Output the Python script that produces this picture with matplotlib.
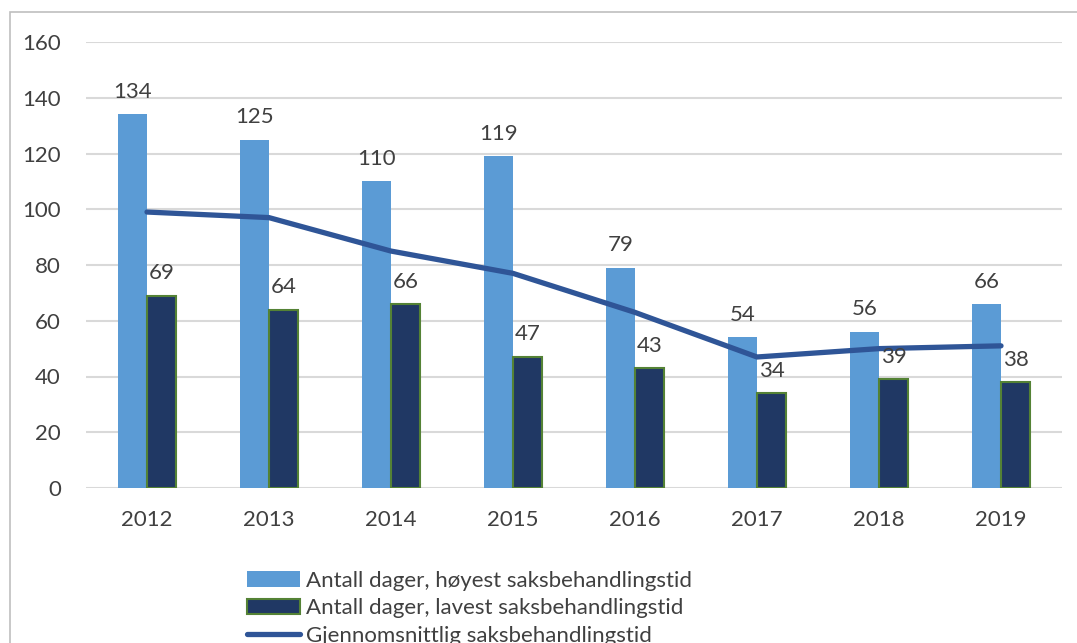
import matplotlib
matplotlib.use("Agg")
import matplotlib.pyplot as plt
import numpy as np
from matplotlib.patches import Rectangle
from matplotlib.lines import Line2D

years = ["2012", "2013", "2014", "2015", "2016", "2017", "2018", "2019"]
highest = [134, 125, 110, 119, 79, 54, 56, 66]
lowest = [69, 64, 66, 47, 43, 34, 39, 38]
average = [99, 97, 85, 77, 63, 47, 50, 51]
yticks = [0, 20, 40, 60, 80, 100, 120, 140, 160]

labels = ["Antall dager, høyest saksbehandlingstid",
          "Antall dager, lavest saksbehandlingstid",
          "Gjennomsnittlig saksbehandlingstid"]

plt.rcParams['font.family'] = ['Lato', 'DejaVu Sans']
text_color = "#404040"

fig = plt.figure(figsize=(10.77, 6.43), dpi=100)
W, H = 1077, 643
ax = fig.add_axes([86 / W, 1 - 488 / H, (1062 - 86) / W, (488 - 42) / H])

x = np.arange(len(years))
bw = 0.238
c_high = "#5B9BD5"
c_low = "#203864"
c_edge = "#548235"
c_line = "#2F5597"

ax.bar(x - bw / 2, highest, bw, color=c_high, zorder=2)
ax.bar(x + bw / 2, lowest, bw, color=c_low, edgecolor=c_edge, linewidth=1.5, zorder=2)
ax.plot(x, average, color=c_line, linewidth=3.8, solid_capstyle='round', zorder=3)

for i in range(len(years)):
    ax.annotate(str(highest[i]), (x[i] - bw / 2, highest[i]), xytext=(0, 9),
                textcoords='offset points', ha='center', va='bottom',
                fontsize=16, color=text_color, zorder=4)
    ax.annotate(str(lowest[i]), (x[i] + bw / 2, lowest[i]), xytext=(0, 9),
                textcoords='offset points', ha='center', va='bottom',
                fontsize=16, color=text_color, zorder=4)

ax.set_xlim(-0.5, len(years) - 0.5)
ax.set_ylim(0, 160)
ax.set_yticks(yticks)
ax.set_yticklabels([str(v) for v in yticks])
ax.set_xticks(x)
ax.set_xticklabels(years)
ax.tick_params(axis='both', length=0, labelsize=16, labelcolor=text_color)
ax.tick_params(axis='y', pad=18)
ax.tick_params(axis='x', pad=16)
ax.grid(axis='y', color="#D9D9D9", linewidth=1.5, zorder=0)
ax.set_axisbelow(True)
for s in ax.spines.values():
    s.set_visible(False)

# Border of the chart area
fig.add_artist(Rectangle((10 / W, -0.1), 1.2, 1 - 12 / H + 0.1, transform=fig.transFigure,
                         fill=False, edgecolor="#BFBFBF", linewidth=1.2))

handles = [Rectangle((0, 0), 1, 1, facecolor=c_high, edgecolor='none'),
           Rectangle((0, 0), 1, 1, facecolor=c_low, edgecolor=c_edge, linewidth=1.5),
           Line2D([0], [0], color=c_line, linewidth=3.8, solid_capstyle='round')]
leg = fig.legend(handles, labels, loc='upper left', bbox_to_anchor=(247 / W, 1 - 571 / H),
                 frameon=False, fontsize=16, handlelength=2.4, handleheight=0.7,
                 handletextpad=0.25, labelspacing=0.33, borderaxespad=0, borderpad=0)
for t in leg.get_texts():
    t.set_color(text_color)

fig.savefig("out.png", dpi=100)
